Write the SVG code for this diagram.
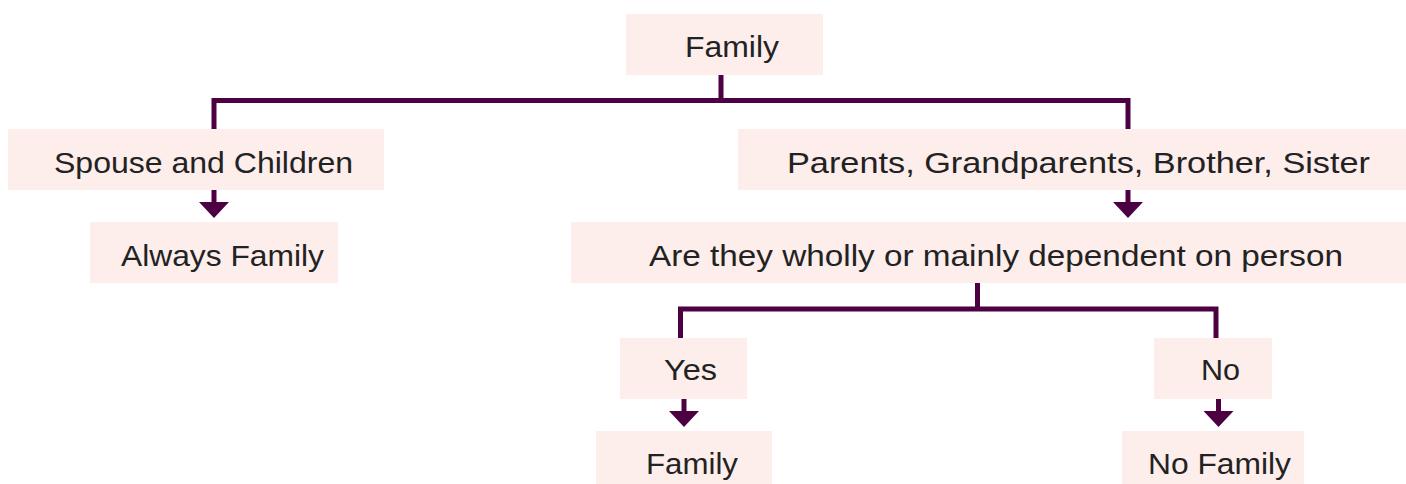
<svg xmlns="http://www.w3.org/2000/svg" width="1406" height="484" viewBox="0 0 1406 484">
<style>
.box{fill:#fdedeb;}
.lbl{font-family:"Liberation Sans",Arial,sans-serif;font-size:30px;fill:#222222;}
.wire{fill:none;stroke:#4d0042;stroke-width:5;}
.head{fill:#4d0042;}
</style>
<rect width="1406" height="484" fill="#ffffff"/>
<g id="connectors">
<path class="wire" d="M721,75 V100.5 M214,129 V100.5 H1128 V129"/>
<path class="wire" d="M214,190 V204 M1128,190 V204"/>
<polygon class="head" points="199,202 229,202 214,218"/>
<polygon class="head" points="1113,202 1143,202 1128,218"/>
<path class="wire" d="M977.5,283 V309 M680.5,338 V309 H1216 V338"/>
<path class="wire" d="M684,399 V413 M1218.5,399 V413"/>
<polygon class="head" points="669,411 699,411 684,427"/>
<polygon class="head" points="1203.5,411 1233.5,411 1218.5,427"/>
</g>
<g id="node-family">
<rect class="box" x="626" y="14" width="197" height="61"/>
<text class="lbl" x="685" y="57" textLength="94" lengthAdjust="spacingAndGlyphs">Family</text>
</g>
<g id="node-spouse">
<rect class="box" x="8" y="129" width="376" height="61"/>
<text class="lbl" x="54" y="173" textLength="299" lengthAdjust="spacingAndGlyphs">Spouse and Children</text>
</g>
<g id="node-always">
<rect class="box" x="90" y="222" width="248" height="61"/>
<text class="lbl" x="121" y="266" textLength="203" lengthAdjust="spacingAndGlyphs">Always Family</text>
</g>
<g id="node-parents">
<rect class="box" x="738" y="129" width="668" height="61"/>
<text class="lbl" x="787" y="173" textLength="583" lengthAdjust="spacingAndGlyphs">Parents, Grandparents, Brother, Sister</text>
</g>
<g id="node-dependent">
<rect class="box" x="571" y="222" width="835" height="61"/>
<text class="lbl" x="649" y="266" textLength="694" lengthAdjust="spacingAndGlyphs">Are they wholly or mainly dependent on person</text>
</g>
<g id="node-yes">
<rect class="box" x="620" y="338" width="127" height="61"/>
<text class="lbl" x="664" y="380" textLength="53" lengthAdjust="spacingAndGlyphs">Yes</text>
</g>
<g id="node-no">
<rect class="box" x="1154" y="338" width="118" height="61"/>
<text class="lbl" x="1201" y="380" textLength="39" lengthAdjust="spacingAndGlyphs">No</text>
</g>
<g id="node-family-yes">
<rect class="box" x="596" y="431" width="176" height="60"/>
<text class="lbl" x="646" y="474" textLength="92" lengthAdjust="spacingAndGlyphs">Family</text>
</g>
<g id="node-nofamily">
<rect class="box" x="1122" y="431" width="182" height="60"/>
<text class="lbl" x="1148" y="474" textLength="143" lengthAdjust="spacingAndGlyphs">No Family</text>
</g>
</svg>
